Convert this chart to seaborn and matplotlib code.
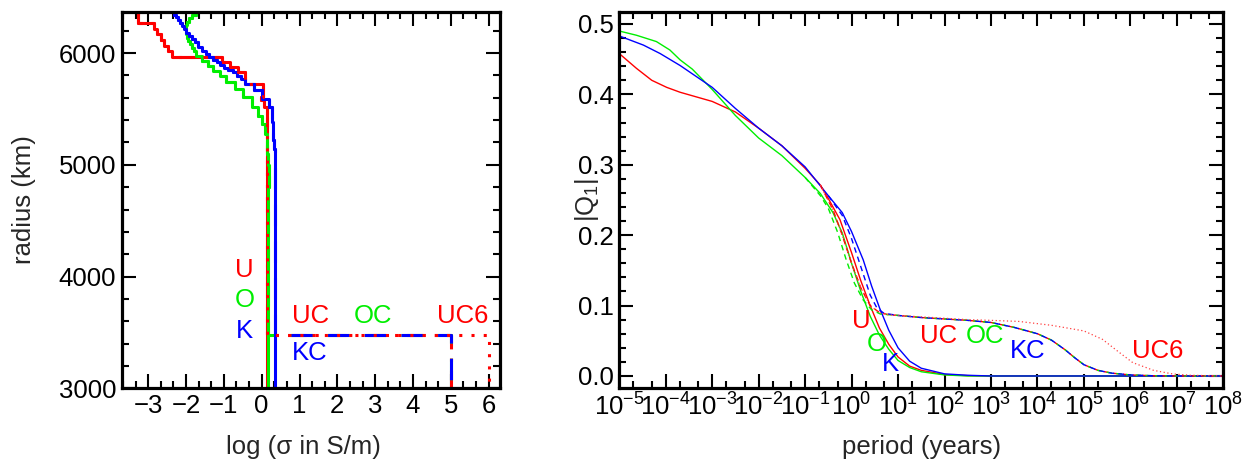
import numpy as np
import pandas as pd
import seaborn as sns
import matplotlib
matplotlib.use('Agg')
import matplotlib.pyplot as plt
from matplotlib.ticker import MultipleLocator, LogLocator, NullFormatter

# ---- left panel: conductivity profiles (layer top radius in km, log10 sigma)
u_rtop = [6371, 6271, 6217, 6172, 6119, 6068, 6017, 5963, 5919, 5874, 5829, 5726, 5606, 5577, 5517, 5300]
u_sig = [-3.27, -2.84, -2.76, -2.66, -2.58, -2.47, -2.37, -1.06, -0.84, -0.62, -0.44, 0.04, -0.03, 0.06, 0.13, 0.15]

o_rtop = [6371, 6340, 6310, 6280, 6250, 6200, 6170, 6139, 6110, 6080, 6050, 6021, 5976, 5931, 5887, 5842,
          5797, 5738, 5679, 5604, 5514, 5440, 5366, 5277, 5200, 5100, 5000, 4900, 4800, 4700]
o_sig = [-1.74, -1.85, -1.93, -1.98, -2.01, -2.0, -1.97, -1.94, -1.90, -1.85, -1.80, -1.74, -1.59, -1.41, -1.28, -1.10,
         -0.93, -0.71, -0.49, -0.26, -0.09, 0.0, 0.09, 0.13, 0.15, 0.18, 0.20, 0.19, 0.17, 0.16]

k_rtop = [6371, 6345, 6319, 6293, 6267, 6241, 6214, 6184, 6154, 6125, 6095, 6058, 6021, 5991, 5961, 5938,
          5916, 5893, 5871, 5849, 5827, 5797, 5768, 5726, 5666, 5592, 5517, 5450, 5380, 5300, 5220, 5140,
          5060, 4980, 4850, 4700]
k_sig = [-2.31, -2.26, -2.21, -2.16, -2.11, -2.06, -2.01, -1.93, -1.85, -1.77, -1.68, -1.58, -1.47, -1.38, -1.28, -1.19,
         -1.10, -0.99, -0.88, -0.77, -0.66, -0.55, -0.44, -0.20, 0.02, 0.20, 0.26, 0.28, 0.30, 0.31, 0.33, 0.34,
         0.35, 0.36, 0.35, 0.34]

r_cmb = 3480
core_sig = 5.0
core_sig6 = 6.0
r_min = 3000

# ---- right panel: |Q1| vs period (log10 years)
u_logT = [-5, -4.63, -4.3, -3.98, -3.69, -3.0, -2.5, -2.0, -1.5, -1.0, -0.67, -0.5, -0.25, 0.0, 0.2, 0.4,
          0.6, 0.8, 1.0, 1.25, 1.5, 2.0, 2.5, 3.0, 8.0]
u_q = [0.458, 0.437, 0.420, 0.410, 0.403, 0.390, 0.375, 0.352, 0.327, 0.295, 0.271, 0.252, 0.222, 0.175, 0.135, 0.100,
       0.068, 0.045, 0.027, 0.014, 0.008, 0.002, 0.0005, 0.0, 0.0]

o_logT = [-5, -4.63, -4.2, -3.91, -3.69, -3.43, -3.0, -2.5, -2.0, -1.5, -1.0, -0.67, -0.4, -0.2, 0.0, 0.2, 0.4,
          0.6, 0.8, 1.0, 1.25, 1.5, 2.0, 2.5, 8.0]
o_q = [0.490, 0.484, 0.475, 0.463, 0.449, 0.436, 0.407, 0.370, 0.338, 0.313, 0.282, 0.259, 0.232, 0.203, 0.160, 0.120,
       0.085, 0.058, 0.038, 0.022, 0.012, 0.006, 0.0015, 0.0, 0.0]

k_logT = [-5, -4.48, -4.12, -3.69, -3.0, -2.5, -2.0, -1.5, -1.0, -0.5, -0.2, 0.0, 0.25, 0.43, 0.6, 0.8, 1.0,
          1.25, 1.5, 2.0, 2.5, 3.0, 8.0]
k_q = [0.483, 0.470, 0.458, 0.441, 0.410, 0.380, 0.352, 0.327, 0.297, 0.256, 0.232, 0.205, 0.165, 0.128, 0.097,
       0.065, 0.040, 0.021, 0.011, 0.003, 0.001, 0.0, 0.0]

uc_logT = [-0.67, -0.4, -0.2, 0.0, 0.2, 0.4, 0.6, 0.8, 1.0, 1.5, 2.0, 2.5, 3.0, 3.5, 4.0, 4.3, 4.6, 4.8, 5.0,
           5.3, 5.6, 6.0, 6.5, 7.0, 8.0]
uc_q = [0.271, 0.236, 0.200, 0.160, 0.125, 0.100, 0.090, 0.087, 0.086, 0.083, 0.081, 0.079, 0.076, 0.069, 0.060,
        0.051, 0.037, 0.026, 0.016, 0.008, 0.004, 0.0015, 0.0003, 0.0, 0.0]

oc_logT = [-1.0, -0.67, -0.5, -0.3, -0.12, 0.06, 0.25, 0.43, 0.62, 1.0, 1.5, 2.0, 2.5, 3.0, 3.5, 4.0, 4.3, 4.6,
           4.8, 5.0, 5.3, 5.6, 6.0, 6.5, 7.0, 8.0]
oc_q = [0.282, 0.256, 0.238, 0.204, 0.166, 0.132, 0.108, 0.094, 0.088, 0.086, 0.083, 0.081, 0.079, 0.076, 0.069,
        0.060, 0.051, 0.037, 0.026, 0.016, 0.008, 0.004, 0.0015, 0.0003, 0.0, 0.0]

kc_logT = [-0.5, -0.2, 0.0, 0.2, 0.4, 0.55, 0.7, 1.0, 1.5, 2.0, 2.5, 3.0, 3.5, 4.0, 4.3, 4.6, 4.8, 5.0, 5.3,
           5.6, 6.0, 6.5, 7.0, 8.0]
kc_q = [0.256, 0.228, 0.195, 0.155, 0.115, 0.096, 0.089, 0.086, 0.083, 0.081, 0.079, 0.076, 0.069, 0.060, 0.051,
        0.037, 0.026, 0.016, 0.008, 0.004, 0.0015, 0.0003, 0.0, 0.0]

uc6_logT = [-0.67, -0.4, -0.2, 0.0, 0.2, 0.4, 0.6, 0.8, 1.0, 1.5, 2.0, 2.5, 3.0, 3.6, 4.3, 5.0, 5.4, 5.75,
            6.05, 6.5, 6.9, 7.3, 8.0]
uc6_q = [0.271, 0.236, 0.200, 0.160, 0.125, 0.100, 0.090, 0.087, 0.086, 0.084, 0.082, 0.080, 0.079, 0.0775,
         0.072, 0.064, 0.052, 0.034, 0.019, 0.008, 0.003, 0.001, 0.0]

RED, GREEN, BLUE = '#ff0000', '#00ee00', '#0000ff'


def stairs(rtop, sig, rbot):
    xs, ys = [], []
    rb = list(rtop[1:]) + [rbot]
    for s, r0, r1 in zip(sig, rtop, rb):
        if r0 <= rbot:
            break
        xs += [s, s]
        ys += [r0, max(r1, rbot)]
    return xs, ys


def with_core(rtop, sig, csig):
    xs, ys = stairs(rtop, sig, r_cmb)
    return xs + [csig, csig], ys + [r_cmb, r_min]


def draw(ax, x, y, color, lw, ls='-'):
    d = pd.DataFrame({'x': x, 'y': y})
    sns.lineplot(data=d, x='x', y='y', sort=False, estimator=None, ax=ax,
                 color=color, linewidth=lw, linestyle=ls)


sns.set_style('ticks')
plt.rcParams['font.family'] = ['Liberation Sans', 'DejaVu Sans']
plt.rcParams['mathtext.fontset'] = 'custom'
plt.rcParams['mathtext.rm'] = 'Liberation Sans'
plt.rcParams['mathtext.it'] = 'Liberation Sans'
FS = 18.5

fig = plt.figure(figsize=(12.52, 4.68), dpi=100)
ax1 = fig.add_axes([0.0972, 0.1703, 0.3022, 0.8048])
ax2 = fig.add_axes([0.4946, 0.1703, 0.4825, 0.8048])

# left panel
lw1 = 2.2
draw(ax1, *stairs(u_rtop, u_sig, r_min), RED, lw1)
draw(ax1, *with_core(u_rtop, u_sig, core_sig), RED, lw1, (0, (6, 3, 1, 3)))
draw(ax1, *stairs(o_rtop, o_sig, r_min), GREEN, lw1)
draw(ax1, *with_core(o_rtop, o_sig, core_sig), GREEN, lw1, (0, (7, 5)))
draw(ax1, *stairs(k_rtop, k_sig, r_min), BLUE, lw1)
draw(ax1, *with_core(k_rtop, k_sig, core_sig), BLUE, lw1, (0, (7, 5)))
draw(ax1, *with_core(u_rtop, u_sig, core_sig6), RED, lw1, (0, (1, 3)))

ax1.set_xlim(-3.70, 6.30)
ax1.set_ylim(3000, 6371)
ax1.xaxis.set_major_locator(MultipleLocator(1))
ax1.xaxis.set_minor_locator(MultipleLocator(1 / 3))
ax1.yaxis.set_major_locator(MultipleLocator(1000))
ax1.yaxis.set_minor_locator(MultipleLocator(200))
ax1.set_xlabel('log (σ in S/m)', fontsize=FS)
ax1.set_ylabel('radius (km)', fontsize=FS)
ax1.xaxis.set_label_coords(0.48, -0.155)
ax1.xaxis.label.set_va('center')
ax1.yaxis.set_label_coords(-0.257, 0.5)
ax1.yaxis.label.set_va('center')

for txt, x, y, c in [('U', -0.46, 4056, RED), ('O', -0.46, 3789, GREEN), ('K', -0.46, 3512, BLUE),
                     ('UC', 1.28, 3646, RED), ('OC', 2.95, 3646, GREEN), ('UC6', 5.30, 3646, RED),
                     ('KC', 1.28, 3316, BLUE)]:
    ax1.text(x, y, txt, color=c, fontsize=FS, ha='center', va='center')

# right panel
lw2 = 1.0
draw(ax2, 10.0 ** np.array(u_logT), u_q, RED, lw2)
draw(ax2, 10.0 ** np.array(o_logT), o_q, GREEN, lw2)
draw(ax2, 10.0 ** np.array(k_logT), k_q, BLUE, lw2)
draw(ax2, 10.0 ** np.array(uc_logT), uc_q, RED, lw2, (0, (4, 3)))
draw(ax2, 10.0 ** np.array(oc_logT), oc_q, GREEN, lw2, (0, (4, 3)))
draw(ax2, 10.0 ** np.array(kc_logT), kc_q, BLUE, lw2, (0, (4, 3)))
draw(ax2, 10.0 ** np.array(uc6_logT), uc6_q, '#ff4040', 0.9, (0, (1, 2)))

ax2.set_xscale('log')
ax2.set_xlim(1e-5, 1e8)
ax2.set_ylim(-0.0175, 0.5175)
ax2.xaxis.set_major_locator(LogLocator(base=10, numticks=30))
ax2.xaxis.set_minor_locator(LogLocator(base=10, subs=(2, 5), numticks=30))
ax2.xaxis.set_minor_formatter(NullFormatter())
ax2.yaxis.set_major_locator(MultipleLocator(0.1))
ax2.yaxis.set_minor_locator(MultipleLocator(0.02))
ax2.yaxis.set_major_formatter(plt.FormatStrFormatter('%.1f'))
ax2.set_xlabel('period (years)', fontsize=FS)
ax2.set_ylabel('|Q$_1$|', fontsize=FS)
ax2.xaxis.set_label_coords(0.5, -0.155)
ax2.xaxis.label.set_va('center')
ax2.yaxis.set_label_coords(-0.053, 0.5)
ax2.yaxis.label.set_va('center')

for txt, lt, q, c in [('U', 0.217, 0.078, RED), ('O', 0.54, 0.046, GREEN), ('K', 0.826, 0.017, BLUE),
                      ('UC', 1.866, 0.057, RED), ('OC', 2.87, 0.057, GREEN), ('KC', 3.80, 0.036, BLUE),
                      ('UC6', 6.595, 0.036, RED)]:
    ax2.text(10.0 ** lt, q, txt, color=c, fontsize=FS, ha='center', va='center')

for ax in (ax1, ax2):
    for sp in ax.spines.values():
        sp.set_visible(True)
        sp.set_linewidth(2.3)
        sp.set_color('black')
    ax.tick_params(which='both', direction='in', top=True, right=True, colors='black')
    ax.tick_params(which='major', length=10, width=1.5, labelsize=FS, pad=4)
    ax.tick_params(which='minor', length=5, width=1.5)
    ax.grid(False)

fig.savefig('out.png', dpi=100)
